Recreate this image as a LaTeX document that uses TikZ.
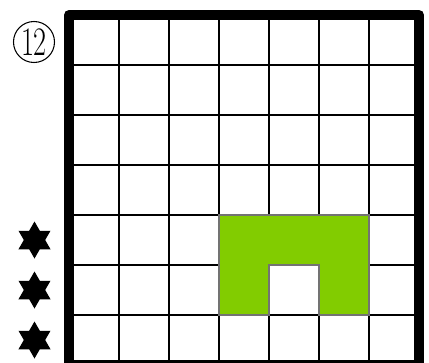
\documentclass[tikz,border=0pt]{standalone}
\usetikzlibrary{shapes.geometric}
\definecolor{shapegreen}{RGB}{130,204,0}

\begin{document}
\begin{tikzpicture}[
    gridline/.style={line width=1.1pt, black},
    frame/.style={line width=5.7pt, line join=round},
    piece/.style={fill=shapegreen, draw=black!55, line width=0.6pt},
    hexstar/.style={star, star points=6, star point ratio=1.732, fill=black, minimum size=0.74cm, inner sep=0pt},
    puzzleno/.style={circle, draw, line width=0.6pt, minimum size=0.82cm, inner sep=0pt, font=\fontsize{23}{24}\selectfont}
]
\useasboundingbox (-1.38,0.06) rectangle (7.2,7.3);
% Grid
\draw[gridline] (0,0) grid (7,7);
% Shape
\draw[piece] (3,3) -- (6,3) -- (6,1) -- (5,1) -- (5,2) -- (4,2) -- (4,1) -- (3,1) -- cycle;
% Frame
\draw[frame] (0,0) rectangle (7,7);
% Labels
\node[puzzleno] (num) at (-0.7,6.46) {\scalebox{0.7}[1]{12}};
\foreach \y [count=\i] in {2.5,1.5,0.5}
  \node[hexstar] (star\i) at (-0.69,\y) {};
\end{tikzpicture}
\end{document}
